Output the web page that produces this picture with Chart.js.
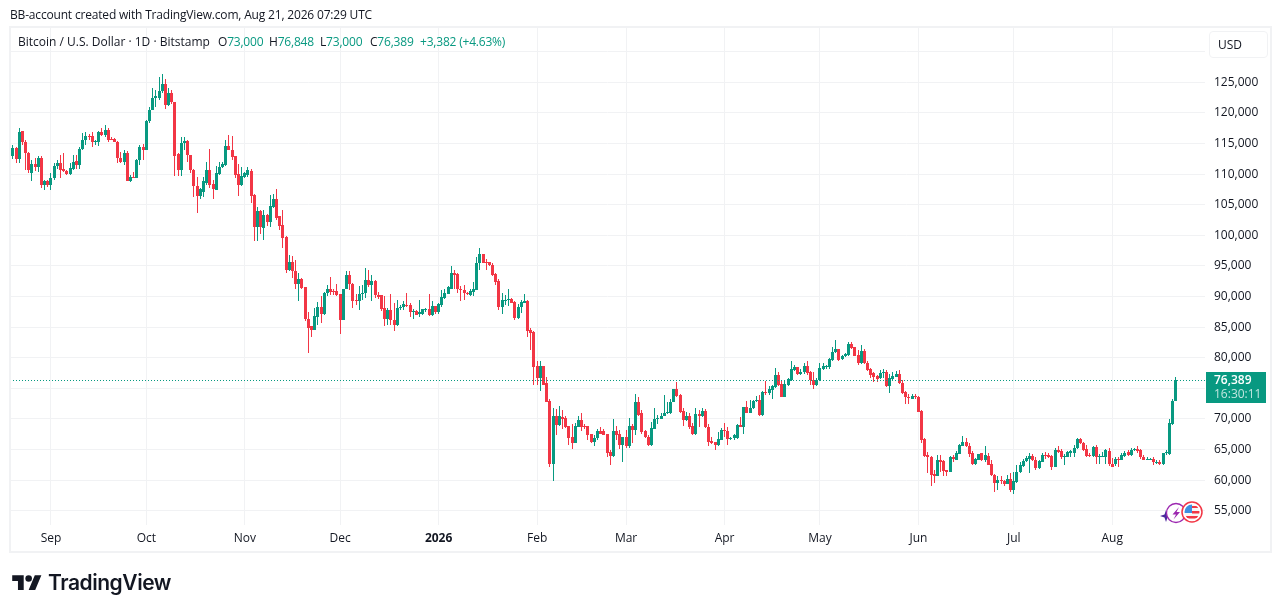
<!DOCTYPE html>
<html>
<head>
<meta charset="utf-8">
<title>BTCUSD</title>
<script src="https://cdn.jsdelivr.net/npm/chart.js@4"></script>
<style>
    html, body { margin: 0; padding: 0; background: #fff; }
    body { width: 1281px; height: 613px; position: relative; overflow: hidden; font-family: "Open Sans", sans-serif; font-size: 12px; color: #131722; }
    canvas { position: absolute; left: 0; top: 0; }
    .abs { position: absolute; white-space: nowrap; line-height: 14px; letter-spacing: -0.05px; }
    .up { color: #089981; }
    #frame { position: absolute; left: 9px; top: 26px; width: 1259px; height: 523px; border: 2px solid #f1f2f4; }
    #usd { position: absolute; left: 1209px; top: 31px; width: 57px; height: 25px; border: 1px solid #f1f2f4; border-radius: 4px; line-height: 26px; text-indent: 8px; }
    #lastBox { position: absolute; left: 1206px; top: 372px; width: 60px; height: 31px; background: #089981; color: #fff; font-weight: 600; text-align: left; line-height: 14px; padding: 1px 0 0 8px; box-sizing: border-box; }
    #lastBox div + div { opacity: 0.75; font-weight: 400; }
    #logoText { position: absolute; left: 48px; top: 569px; font-family: Inter, sans-serif; font-weight: 600; font-size: 21px; line-height: 28px; color: #131722; letter-spacing: -0.45px; }
</style>
</head>
<body>
<canvas id="chart" width="1281" height="613"></canvas>
<div id="frame"></div>
<div class="abs" style="left:10px;top:8px;letter-spacing:-0.18px">BB-account created with TradingView.com, Aug 21, 2026 07:29 UTC</div>
<div class="abs" style="left:18px;top:35px;letter-spacing:0">Bitcoin / U.S. Dollar · 1D · Bitstamp</div>
<div class="abs" style="left:218px;top:35px;letter-spacing:-0.2px">O<span class="up">73,000</span></div>
<div class="abs" style="left:269px;top:35px;letter-spacing:-0.2px">H<span class="up">76,848</span></div>
<div class="abs" style="left:320px;top:35px;letter-spacing:-0.2px">L<span class="up">73,000</span></div>
<div class="abs" style="left:370px;top:35px;letter-spacing:-0.2px">C<span class="up">76,389</span></div>
<div class="abs up" style="left:420px;top:35px;letter-spacing:-0.2px">+3,382 (+4.63%)</div>
<div id="usd">USD</div>
<div id="lastBox"><div>76,389</div><div>16:30:11</div></div>
<svg style="position:absolute;left:1160px;top:500px" width="46" height="28" viewBox="0 0 46 28">
    <path d="M6 10 L7.5 14.5 L12 16 L7.5 17.500 L6 22 L4.500 17.500 L0 16 L4.500 14.500 Z" fill="#4a2a9c"/>
    <circle cx="16" cy="13" r="9.500" fill="#fff" stroke="#9c27b0" stroke-width="1.300"/>
    <path d="M19 7 L12.500 14.500 L16 14.500 L13.500 19.500 L20 12 L16.500 12 Z" fill="#9c27b0"/>
    <circle cx="32" cy="12" r="10" fill="#fff" stroke="#f23645" stroke-width="1.500"/>
    <clipPath id="flag"><circle cx="32" cy="12" r="7.500"/></clipPath>
    <g clip-path="url(#flag)">
        <rect x="24" y="4" width="16" height="16" fill="#f7f7f7"/>
        <rect x="32" y="6" width="9" height="2" fill="#f23645"/>
        <rect x="32" y="11" width="9" height="2.500" fill="#f23645"/>
        <rect x="24" y="16" width="16" height="2.500" fill="#f23645"/>
        <rect x="24" y="4" width="8" height="9" fill="#3d8fe0"/>
    </g>
</svg>
<svg style="position:absolute;left:12px;top:572px" width="30" height="23" viewBox="0 0 36 28">
    <path d="M14 22H7V11H0V4h14v18zM28 22h-8l7.500-18h8L28 22z" fill="#131722"/>
    <circle cx="20" cy="8" r="4" fill="#131722"/>
</svg>
<div id="logoText">TradingView</div>

<script>
// Daily candles, Aug 19 2025 to Aug 21 2026
const firstDay = -13; // day number of the first candle, Sep 1 2025 is day 0

const opens = [
    113200,112900,114200,112400,117000,115300,113500,110100,111700,111200,
    112700,108200,108800,108200,109300,111400,111800,110800,110500,110000,
    110900,112100,111500,114100,115600,116200,116200,115300,115300,116900,
    116400,117200,115800,115800,115300,112700,112000,113500,108900,109600,
    109400,112300,114500,114000,118700,120500,122400,122400,123600,124800,
    121300,123300,121700,113200,110700,115000,115400,113100,110700,108100,
    106400,107100,108600,110700,108400,107400,110000,111100,111500,114600,
    114000,113000,110000,108200,109500,109900,110500,106600,101400,104000,
    101200,103300,102200,104700,106000,103100,101700,99800,94300,95600,
    94200,92000,92900,91600,86400,85100,84600,86700,88300,87100,
    90500,91300,90900,90900,90400,86200,91300,93500,92100,89400,
    89200,90400,90600,92700,91900,92500,90300,90200,88100,86400,
    87800,86200,85300,88100,88200,88600,88600,87400,87700,87100,
    87100,87800,87900,87000,88400,87400,88600,89800,90400,91300,
    93800,93700,91200,91100,90600,90300,90800,91100,95400,96900,
    95700,95600,95100,93700,92500,88200,89400,89400,89600,89100,
    86500,88200,89000,89300,84500,84200,78600,76700,78600,75800,
    72900,62600,70500,69000,70300,70100,68800,67000,66100,68700,
    69800,68800,68800,67500,66200,66800,68100,68100,67500,64600,
    63900,68000,67500,65700,67000,65600,68800,68200,72800,71000,
    68000,67100,65700,68400,69900,70000,70400,70900,71000,72800,
    74900,73900,71300,69800,70500,68800,67600,70800,70400,71300,
    68700,66400,66200,65700,66600,68200,68100,66700,66800,66800,
    69000,68700,71900,71000,71700,72900,73100,70600,74400,74200,
    74800,75200,77200,75700,73600,75500,76300,78000,78400,77400,
    77600,78600,77600,76400,75500,76300,78200,78400,78400,79600,
    80900,81400,79800,80200,80400,82200,81700,80400,79100,81100,
    79200,78100,77500,77000,76600,77500,77700,75300,76500,76900,
    77300,75900,74400,73600,73300,73700,73600,71300,66700,64100,
    63800,61000,60700,63300,63100,61600,61400,63700,63300,64300,
    65600,66200,65600,64400,62600,63300,64400,63200,64000,62600,
    60900,59600,60000,59900,59400,60100,58400,59700,61300,62300,
    63100,63400,63900,63300,61900,63000,64100,64100,64000,62200,
    64900,64800,63800,63800,64500,64500,65200,66700,66100,65100,
    64100,63900,65400,63800,63800,63700,64800,62700,62600,63500,
    63300,63900,64600,64100,64900,65000,64900,63800,63300,63400,
    63500,62900,63000,62600,64400,64300,69200,73000
];
const highs = [
    116300,114700,114500,117500,117000,115500,113600,112300,112600,112900,
    112900,109000,109000,110100,111800,112300,113100,113400,110700,111800,
    113100,113100,114500,116700,116900,116600,116900,115600,117100,117500,
    118000,117500,116100,115900,115400,113600,114000,113700,109900,110400,
    112400,114800,114900,118800,121000,124000,123700,125800,126400,125500,
    124000,123800,121800,113400,116000,116100,115600,113100,110800,109600,
    107800,109600,111900,114100,109100,111300,111900,112000,115600,116400,
    116200,113000,111600,111200,110400,111100,110900,106700,104600,104200,
    104100,103400,106600,106700,107500,103200,104100,99900,96800,96600,
    96000,93800,93100,91600,87400,85200,88100,89100,90000,90800,
    91900,93200,91300,92000,90400,91300,94200,94200,92200,90400,
    91700,91900,94600,94400,93500,92700,90800,90300,90100,88100,
    90400,88900,89400,88600,89200,90500,88900,88000,87800,89400,
    88000,88100,90400,89200,88500,88900,91000,91300,91700,94900,
    94400,93800,91700,91900,90800,91300,92400,96500,97900,97000,
    96100,95700,95400,93800,92800,90500,90200,91200,89700,89200,
    88800,89400,90400,89400,84800,84300,79400,79400,78700,76800,
    73300,71700,71600,72100,71500,70400,68900,69200,69400,70500,
    71000,69200,68900,67600,67400,68400,68700,68300,67600,64900,
    70000,68800,68200,67100,68200,70100,69100,74100,73600,71500,
    68200,67400,69500,71700,70600,70900,73900,72800,73300,74900,
    76000,74000,71700,71200,71000,69300,71700,71400,71700,71600,
    69100,67100,66300,67900,68500,69300,68600,67100,67600,69200,
    70300,72000,73000,73100,73100,73700,73900,74600,76200,75300,
    75500,78300,77700,76400,76200,76700,79400,78800,78500,78100,
    79100,79400,77900,77700,76600,79100,79200,78800,79900,81800,
    82900,81500,80500,80700,82500,82500,81800,81300,82100,81500,
    79400,78300,77700,77200,78000,78100,78000,77400,77600,77900,
    78000,76300,74500,74100,74100,74100,73700,71400,66900,64600,
    63900,61600,64100,64100,63200,61700,63900,64100,64800,65900,
    67200,66800,66000,64800,63600,64300,64500,65600,64400,63300,
    61000,60700,60600,60000,60800,61100,61400,62500,62900,63400,
    63900,64500,64300,63700,63300,64500,64600,64400,64100,65200,
    65600,65000,64300,64700,64900,65700,66900,66900,66200,65700,
    64400,65600,65700,64200,64600,65000,65200,63600,63700,63800,
    64400,64800,64900,65200,65200,65500,65000,64100,63700,63600,
    63700,63200,63200,64500,64900,69900,73300,76848
];
const lows = [
    112900,112400,111800,111800,114800,110700,110100,108800,110500,110400,
    107700,107400,107900,107400,109000,110900,109300,110400,109900,109900,
    110700,110900,110900,113900,114800,115500,114500,114800,114600,116200,
    116100,115300,115500,115200,111800,111800,111500,108800,108700,109300,
    109300,111500,112300,113900,118300,120500,121000,122100,123300,120700,
    121100,121500,109700,109700,109700,114000,112000,110100,106300,103700,
    106000,106300,108200,107700,106000,107400,109800,111000,111300,113900,
    112300,109400,106500,108100,109300,109600,105300,99000,99000,100200,
    99200,101500,101400,104500,102500,100900,97900,93900,94200,93100,
    91300,89300,91300,86000,80700,83400,84500,85300,85600,87000,
    90100,90200,90200,90100,83900,86100,91200,91000,88100,88600,
    87800,89500,89700,91600,89300,89700,89600,87600,85200,85400,
    85300,84400,85100,87800,87800,88300,86600,86300,86900,86600,
    87000,87500,86800,86800,87200,87200,88300,89600,90400,91200,
    91200,90600,89300,89400,90300,90000,90100,91000,94300,95400,
    94300,95000,93400,91900,87800,87100,88600,88400,88900,86100,
    86400,87300,88900,83300,81200,75500,75600,74600,75500,72800,
    62100,59900,67400,68900,68300,68500,65700,65100,66000,68600,
    68100,68300,66500,66100,65600,66500,67500,67300,63700,62500,
    63800,66500,65000,63000,65300,65300,66100,67400,70400,67600,
    66800,65600,65600,68400,69100,69900,70400,70800,70800,72700,
    73500,71000,68800,69600,68400,67400,67400,68700,70300,68500,
    65500,65900,64900,65600,66500,67100,65700,66500,66500,66700,
    68600,67600,70900,70900,71600,72800,70500,70500,73900,73900,
    73300,75100,75400,73500,73500,75400,76200,77900,77200,77200,
    77400,77200,75500,74900,75300,76200,78000,78100,78100,79500,
    80700,79500,79700,80100,80300,81500,80200,78800,79000,79000,
    77900,76600,76100,76100,76500,76600,75200,74300,76400,76800,
    75700,74100,72400,72400,73200,73300,71100,66100,63800,61200,
    59100,59500,60700,61400,60700,60700,61300,62900,63200,64200,
    65500,65400,63700,62400,62500,63200,63100,63000,62400,60700,
    58100,58300,59400,59000,59300,58100,57700,59600,61200,62200,
    63000,61200,63100,61600,61800,62900,63500,63600,61600,62100,
    64500,63500,62500,63700,63700,63700,65100,65900,64800,63700,
    63700,63800,62700,62600,63700,62600,62300,62100,62300,62200,
    63200,63800,64000,64000,64800,64500,63500,63200,63200,63300,
    62500,62700,62500,62500,64100,64100,69000,73000
];
const closes = [
    112900,114200,112400,116800,115300,113500,110600,111700,111200,112600,
    108200,108800,108200,109300,111400,111800,110700,110500,110000,111000,
    112000,111500,114100,115600,116200,116000,115300,115400,116900,116400,
    117200,115600,115700,115300,112700,112000,113500,108900,109600,109400,
    112300,114500,114000,118700,120500,122400,122800,123600,124800,121300,
    123300,121700,113000,110700,115000,115400,113100,110700,108100,106500,
    107500,108800,110700,108200,107600,110100,111100,111600,114600,113900,
    112800,109900,108200,109700,110200,110700,106500,101400,104000,101300,
    103300,102200,104800,106000,102900,101500,99600,94300,95600,94100,
    92000,92900,91400,86300,84900,84500,86800,88300,87100,90600,
    91300,90800,90800,90200,86200,91300,93500,92000,89300,89300,
    90400,90600,92700,91900,92500,90200,89900,88000,86400,87800,
    86100,85300,88100,88200,88700,88400,87400,87700,87000,87400,
    87900,88000,87000,88400,87400,88800,89900,90600,91600,93800,
    93500,91200,91000,90500,90400,90900,91200,95500,96900,95500,
    95400,95100,93500,92400,88200,89400,89500,89600,89000,86500,
    88200,89100,89300,84400,84100,78500,76700,78600,75600,72800,
    62600,70500,69000,70400,70000,68600,66900,66100,68800,69800,
    68700,68700,67400,66200,66900,68000,67600,67400,64500,63900,
    68000,67400,65700,67000,65600,68800,68200,72800,70700,67900,
    67000,65700,68500,70000,70100,70500,70900,71200,72800,74900,
    73800,71100,69800,70500,68600,67600,70800,70400,71300,68600,
    66300,66100,65700,66700,68200,68100,66700,66900,67400,69000,
    68700,71900,71000,71800,73000,73100,70600,74400,74200,74900,
    75300,77200,75500,73600,75700,76500,78100,78400,77300,77700,
    78600,77500,76300,75500,76300,78300,78600,78600,79800,81000,
    81400,79700,80300,80600,82200,81600,80300,79100,81100,79100,
    78000,77200,76800,76500,77500,77700,75300,76600,77000,77300,
    75800,74300,73500,73400,73700,73500,71200,66600,63900,63700,
    60800,60700,63300,63000,61500,61400,63700,63500,64500,65700,
    66200,65500,64300,62600,63400,64300,63200,64100,62500,60800,
    59500,60000,59800,59400,60100,58400,59900,61400,62500,63100,
    63600,63900,63200,61900,63100,64100,63900,63700,62200,64900,
    64600,63700,64000,64600,64700,65200,66700,66000,64900,63900,
    63900,65400,63800,63900,63900,64900,62600,62200,63400,63300,
    64100,64500,64100,64900,65000,64800,63700,63300,63500,63500,
    63000,63000,62600,64400,64600,69300,73000,76389
];
const lastClose = 76389;

// Tick labels
const priceTicks = [55000,60000,65000,70000,75000,80000,85000,90000,95000,100000,105000,110000,115000,120000,125000,130000];
const hiddenPriceTicks = [130000];
const monthDays = [0,30,61,91,122,153,181,212,242,273,303,334];
const monthLabels = ['Sep','Oct','Nov','Dec','2026','Feb','Mar','Apr','May','Jun','Jul','Aug'];

const green = '#089981';
const red = '#f23645';
const gridColor = '#f1f2f4';
const fontFamily = '"Open Sans", sans-serif';

const xMin = -12.9;
const xMax = 363.2;
const yMin = 52660;
const yMax = 133870;

const bodies = closes.map((c, i) => ({ x: firstDay + i, y: [opens[i], c] }));
const wicks = closes.map((c, i) => ({ x: firstDay + i, y: [lows[i], highs[i]] }));

function candleColor(ctx) {
    const i = ctx.dataIndex;
    return closes[i] >= opens[i] ? green : red;
}

// candles look crisp only on whole pixels
const snapMarks = {
    id: 'snapMarks',
    afterDatasetsUpdate(chart) {
        chart.data.datasets.forEach((ds, idx) => {
            chart.getDatasetMeta(idx).data.forEach(el => {
                if (ds.type === 'line') {
                    el.y = Math.round(el.y) + 0.5;
                    return;
                }
                el.x = Math.floor(el.x) + 0.5;
                el.y = Math.round(el.y);
                el.base = Math.round(el.base);
                if (el.y === el.base) el.base = el.y + 1;
            });
        });
    }
};

new Chart(document.getElementById('chart'), {
    data: {
        datasets: [
            { type: 'line', data: [{ x: xMin, y: lastClose }, { x: xMax, y: lastClose }], borderColor: green, borderWidth: 1, borderDash: [1, 2], pointRadius: 0, order: 0 },
            { type: 'bar', data: bodies, backgroundColor: candleColor, barThickness: 3, grouped: false, inflateAmount: 0, borderWidth: 0, order: 1 },
            { type: 'bar', data: wicks, backgroundColor: candleColor, barThickness: 1, grouped: false, inflateAmount: 0, borderWidth: 0, order: 2 }
        ]
    },
    options: {
        responsive: false,
        animation: false,
        events: [],
        layout: { padding: { left: 10, top: 28, right: 0, bottom: 0 } },
        plugins: { legend: { display: false }, tooltip: { enabled: false } },
        scales: {
            x: {
                type: 'linear',
                offset: false,
                min: xMin,
                max: xMax,
                afterBuildTicks: scale => { scale.ticks = monthDays.map(value => ({ value })); },
                afterFit: scale => { scale.height = 88; },
                grid: { color: gridColor, drawTicks: false, offset: false },
                border: { display: false },
                ticks: {
                    autoSkip: false,
                    maxRotation: 0,
                    padding: 6,
                    color: '#131722',
                    font: ctx => ({ family: fontFamily, size: 12, weight: ctx.tick && ctx.tick.value === 122 ? 'bold' : 'normal' }),
                    callback: value => monthLabels[monthDays.indexOf(value)]
                }
            },
            y: {
                type: 'linear',
                position: 'right',
                min: yMin,
                max: yMax,
                afterBuildTicks: scale => { scale.ticks = priceTicks.map(value => ({ value })); },
                afterFit: scale => { scale.width = 76; },
                grid: { color: gridColor, drawTicks: false },
                border: { display: false },
                ticks: {
                    autoSkip: false,
                    padding: 9,
                    color: '#131722',
                    font: { family: fontFamily, size: 12 },
                    callback: value => hiddenPriceTicks.includes(value) ? '' : value.toLocaleString('en-US')
                }
            }
        }
    },
    plugins: [snapMarks]
});
</script>
</body>
</html>
